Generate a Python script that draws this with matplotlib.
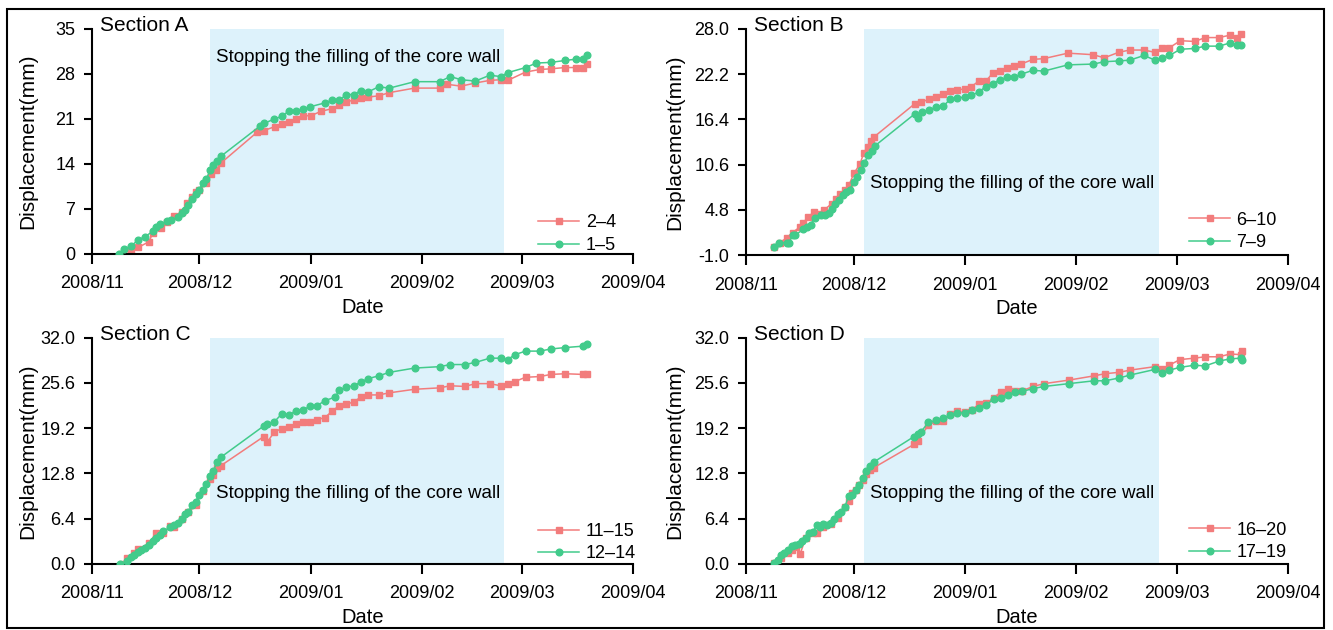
import datetime
import numpy as np
import matplotlib
matplotlib.use("Agg")
import matplotlib.pyplot as plt
import matplotlib.dates as mdates
from matplotlib.patches import Rectangle

plt.rcParams['font.family'] = ['Liberation Sans', 'DejaVu Sans']

# days counted from 2008/11/01, displacement in mm
a_days_red = [8, 11, 12.9, 15.9, 17, 19.2, 21, 23, 25, 26.5, 28, 28.9, 30, 31.8, 33.3, 34.6, 35.9, 46, 48, 51,
              53, 55, 57, 59, 61, 64, 67, 69, 71, 73, 75, 77, 80, 83, 90, 97, 99, 103, 107, 111,
              114, 116, 121, 125, 128, 132, 135, 137, 138]
a_disp_red = [0, 0.5, 1.0, 1.9, 3.3, 4.1, 5.0, 5.9, 6.5, 7.9, 8.8, 9.6, 10.0, 11.1, 12.4, 13.0, 14.1, 18.9, 19.2, 19.8,
              20.2, 20.5, 21.0, 21.5, 21.5, 22.2, 22.6, 23.1, 23.7, 23.9, 24.2, 24.4, 24.6, 25.1, 25.8, 25.8, 26.4, 26.1, 26.6, 27.0,
              27.1, 27.0, 28.3, 28.7, 28.8, 29.0, 29.0, 29.0, 29.6]
a_days_green = [7.5, 9, 10.9, 12.9, 14.9, 16.9, 18, 18.9, 21, 22, 23.9, 25, 25.9, 26.9, 27.9, 28.9, 29.9, 30.9, 31.9, 32.9,
                33.9, 34.9, 36, 46.9, 48, 50.9, 52.9, 54.9, 56.9, 58.9, 60.9, 65, 67, 69, 71, 73, 75, 77, 80, 83,
                90, 97, 100, 103, 107, 111, 114, 116, 121, 124, 128, 132, 135, 137, 138]
a_disp_green = [0, 0.8, 1.2, 2.2, 2.7, 3.5, 4.2, 4.6, 5.1, 5.2, 5.7, 6.4, 6.9, 7.6, 8.5, 9.3, 10.0, 11.0, 11.6, 13.0,
                13.8, 14.4, 15.2, 19.9, 20.3, 21.0, 21.4, 22.2, 22.3, 22.5, 22.9, 23.5, 23.9, 23.9, 24.8, 24.8, 25.4, 25.2, 26.0, 25.8,
                26.8, 26.8, 27.6, 27.1, 26.9, 27.8, 27.6, 28.2, 29.0, 29.7, 29.8, 30.1, 30.3, 30.3, 30.9]

b_days_red = [7.9, 9.5, 11.3, 13, 15, 16, 17.2, 19, 20, 21.8, 23.9, 25.1, 26.3, 27.5, 28.7, 30.1, 31.8, 32.8, 34, 34.8,
              35.8, 47, 48.8, 51, 53, 54.9, 56.9, 58.9, 60.9, 62.8, 64.8, 66.8, 68.7, 70.8, 72.8, 74.7, 76.7, 79.9, 83, 89.7,
              96.8, 99.8, 103.8, 106.9, 110.9, 114, 116, 118, 121, 125, 128, 131.8, 134.8, 136.8, 138]
b_disp_red = [0.07, 0.6, 1.2, 1.9, 2.6, 3.1, 3.9, 4.5, 4.3, 4.8, 5.6, 6.2, 6.8, 7.3, 8.0, 9.5, 10.7, 12.1, 12.9, 13.7,
              14.2, 18.4, 18.6, 19.0, 19.3, 19.6, 20.1, 20.2, 20.3, 20.6, 21.3, 21.3, 22.3, 22.6, 23.0, 23.3, 23.5, 24.1, 24.2, 24.9,
              24.7, 24.3, 25.0, 25.3, 25.3, 25.0, 25.5, 25.6, 26.5, 26.4, 26.9, 26.9, 27.2, 26.9, 27.4]
b_days_green = [7.9, 9.1, 11.3, 12, 13, 13.8, 16, 17.1, 18, 19.1, 21, 22, 23, 24, 24.9, 26, 26.9, 28, 28.9, 30,
                30.9, 32, 33, 34, 35, 35.9, 47, 48, 49, 51, 53, 55, 56.9, 58.9, 60.9, 62.8, 64.8, 66.8, 68.7, 70.8,
                72.8, 74.7, 76.7, 79.9, 83, 89.7, 96.8, 99.8, 103.8, 106.9, 110.9, 114, 116, 118, 121, 125, 128, 131.8, 134.8, 136.8,
                138]
b_disp_green = [0.0, 0.6, 0.6, 0.55, 1.6, 1.6, 2.3, 2.6, 2.9, 3.8, 4.2, 4.2, 4.4, 4.9, 5.5, 6.1, 6.7, 7.1, 7.4, 8.4,
                9.0, 9.9, 10.8, 11.8, 12.4, 13.0, 17.1, 16.6, 17.3, 17.6, 18.0, 18.1, 19.0, 19.1, 19.3, 19.5, 19.9, 20.6, 21.0, 21.5,
                21.8, 21.8, 22.2, 22.7, 22.6, 23.4, 23.5, 23.8, 23.9, 24.0, 24.6, 24.0, 24.3, 24.6, 25.4, 25.5, 25.8, 25.8, 26.2, 25.9,
                25.9]

c_days_red = [8.5, 9.9, 11.8, 12.9, 15.9, 17.9, 19.9, 21.9, 23, 25, 26.9, 28.9, 30.9, 32.9, 33.9, 34.9, 36, 47.9, 48.9, 50.9,
              52.9, 54.9, 56.9, 58.9, 60.9, 62.9, 65, 67, 69, 71, 73, 75, 77, 80, 83, 90, 97, 100, 104, 107,
              111, 114, 116, 118, 121, 125, 128, 132, 137, 138]
c_disp_red = [0.0, 0.8, 1.5, 2.1, 2.9, 4.4, 4.4, 5.3, 5.2, 6.4, 7.3, 8.3, 10.3, 12.0, 12.6, 13.5, 13.9, 18.0, 17.2, 18.7,
              19.1, 19.4, 19.8, 20.1, 20.1, 20.4, 20.7, 21.6, 22.4, 22.6, 22.9, 23.6, 23.9, 23.9, 24.2, 24.7, 24.9, 25.2, 25.1, 25.5,
              25.5, 25.2, 25.4, 25.8, 26.4, 26.5, 26.8, 26.9, 26.8, 26.9]
c_days_green = [7.9, 9.9, 10.9, 11.8, 12.9, 13.8, 14.9, 15.9, 16.9, 17.9, 18.9, 19.9, 21.9, 23, 23.9, 25, 25.9, 26.9, 27.9, 28.9,
                29.9, 30.9, 31.9, 32.9, 33.9, 34.9, 36, 47.9, 48.9, 50.9, 52.9, 54.9, 56.9, 58.9, 60.9, 62.9, 65, 67.9, 69, 71,
                73, 75, 77, 80, 83, 90, 97, 100, 104, 107, 111, 114, 116, 118, 121, 125, 128, 132, 137, 138]
c_disp_green = [0, 0.4, 0.9, 1.3, 1.7, 1.9, 2.2, 2.7, 3.2, 3.7, 4.1, 4.6, 5.2, 5.5, 5.8, 6.3, 7.1, 7.4, 8.3, 8.8,
                9.8, 10.4, 11.3, 12.4, 13.2, 14.4, 15.1, 19.5, 19.8, 20.1, 21.2, 21.1, 21.6, 21.8, 22.3, 22.4, 23.1, 23.6, 24.6, 25.0,
                25.2, 25.7, 26.2, 26.6, 27.1, 27.7, 27.9, 28.2, 28.2, 28.5, 29.1, 29.1, 28.9, 29.6, 30.1, 30.1, 30.4, 30.6, 30.8, 31.1]

d_days_red = [7.9, 9.7, 11.7, 12.7, 14, 15.1, 16.6, 18.6, 19.7, 21.6, 23.7, 25.6, 27.6, 28.6, 29.6, 30.6, 31.6, 32.6, 33.5, 34.6,
              35.6, 46.8, 47.8, 50.8, 52.9, 54.9, 56.9, 58.9, 60.9, 62.9, 65, 67, 69, 71, 73, 75, 77, 80, 83.1, 90,
              97, 100, 104, 106.9, 113.9, 115.9, 117.9, 120.9, 124.9, 127.9, 131.9, 134.9, 137.8, 138.2]
d_disp_red = [0.1, 0.8, 1.6, 2.0, 2.4, 1.4, 3.6, 4.4, 4.4, 5.2, 5.6, 6.5, 8.0, 8.9, 10.0, 10.4, 11.1, 11.8, 12.7, 13.3,
              13.6, 16.9, 17.4, 19.6, 20.2, 20.2, 21.2, 21.6, 21.5, 21.8, 22.6, 22.7, 23.5, 24.3, 24.8, 24.5, 24.5, 25.1, 25.5, 26.0,
              26.6, 26.9, 27.1, 27.4, 27.9, 27.5, 28.1, 28.9, 29.1, 29.3, 29.3, 29.7, 29.6, 30.1]
d_days_green = [7.9, 8.8, 9.7, 10.7, 11.7, 12.7, 13.6, 14.7, 15.6, 16.6, 17.7, 18.6, 19.7, 20.6, 21.6, 22.6, 23.6, 24.6, 25.6, 26.5,
                27.6, 28.6, 29.6, 30.6, 31.6, 32.6, 33.5, 34.6, 35.6, 46.8, 47.8, 48.8, 50.8, 52.9, 54.9, 56.9, 58.9, 60.9, 62.9, 65,
                67, 69, 71, 73, 75, 77, 80, 83.1, 90, 97, 100, 104, 106.9, 113.9, 115.9, 117.9, 120.9, 124.9, 127.9, 131.9,
                134.9, 137.8, 138.2]
d_disp_green = [0.1, 0.5, 1.2, 1.5, 1.9, 2.5, 2.7, 2.8, 3.3, 3.7, 4.4, 4.5, 5.5, 5.2, 5.6, 5.5, 5.8, 6.3, 7.0, 7.3,
                8.1, 9.6, 9.8, 10.4, 11.1, 12.2, 13.1, 13.8, 14.4, 18.0, 18.4, 18.7, 20.0, 20.3, 20.6, 21.0, 21.3, 21.4, 21.8, 22.1,
                22.5, 23.3, 23.5, 23.9, 24.3, 24.4, 24.8, 25.1, 25.5, 25.9, 25.9, 26.3, 26.7, 27.5, 27.0, 27.4, 27.8, 28.1, 28.0, 28.7,
                29.0, 29.1, 28.9]

titles = ['Section A', 'Section B', 'Section C', 'Section D']
labels_red = ['2\u20134', '6\u201310', '11\u201315', '16\u201320']
labels_green = ['1\u20135', '7\u20139', '12\u201314', '17\u201319']
yticks_a = [0, 7, 14, 21, 28, 35]
yticks_b = [-1.0, 4.8, 10.6, 16.4, 22.2, 28.0]
yticks_cd = [0.0, 6.4, 12.8, 19.2, 25.6, 32.0]
note = 'Stopping the filling of the core wall'
note_y = [30.6, 8.2, 9.9, 9.9]
stop_start, stop_end = 33, 115   # days after 2008/11/01

base = mdates.date2num(datetime.datetime(2008, 11, 1))
red = '#F27C7C'
green = '#42CB8B'
shade = '#DDF2FB'

fig = plt.figure(figsize=(13.33, 6.30), dpi=100)
boxes = [[0.069, 0.597, 0.406, 0.357], [0.5596, 0.595, 0.4066, 0.359],
         [0.069, 0.105, 0.406, 0.359], [0.5596, 0.105, 0.4066, 0.359]]
series = [(a_days_red, a_disp_red, a_days_green, a_disp_green),
          (b_days_red, b_disp_red, b_days_green, b_disp_green),
          (c_days_red, c_disp_red, c_days_green, c_disp_green),
          (d_days_red, d_disp_red, d_days_green, d_disp_green)]
yticks_all = [yticks_a, yticks_b, yticks_cd, yticks_cd]
leg_x = [0.824, 0.817, 0.824, 0.817]
leg_y = [0.0, 0.018, 0.006, 0.012]
ylab_x = [-0.102, -0.113, -0.102, -0.113]

for i in range(4):
    ax = fig.add_axes(boxes[i])
    dr, vr, dg, vg = series[i]
    yt = yticks_all[i]
    ax.axvspan(base + stop_start, base + stop_end, color=shade, lw=0, zorder=0)
    ax.plot(base + np.array(dr), vr, color=red, marker='s', ms=4.5, lw=1.1, label=labels_red[i], zorder=2)
    ax.plot(base + np.array(dg), vg, color=green, marker='o', ms=4.8, lw=1.1, label=labels_green[i], zorder=3)
    ax.set_xlim(base, mdates.date2num(datetime.datetime(2009, 4, 1)))
    ax.set_ylim(yt[0], yt[-1])
    ax.set_yticks(yt)
    if i == 0:
        ax.set_yticklabels([str(v) for v in yt])
    else:
        ax.set_yticklabels(['%.1f' % v for v in yt])
    ax.xaxis.set_major_locator(mdates.MonthLocator())
    ax.xaxis.set_major_formatter(mdates.DateFormatter('%Y/%m'))
    for s in ['top', 'right']:
        ax.spines[s].set_visible(False)
    for s in ['left', 'bottom']:
        ax.spines[s].set_linewidth(1.5)
    ax.tick_params(axis='both', labelsize=13, width=1.5, length=6)
    ax.tick_params(axis='y', pad=6)
    ax.tick_params(axis='x', pad=8.5, length=7)
    ax.set_xlabel('Date', fontsize=14.5, labelpad=4)
    ax.set_ylabel('Displacement(mm)', fontsize=15)
    ax.yaxis.set_label_coords(ylab_x[i], 0.5)
    ax.text(0.015, 1.015, titles[i], transform=ax.transAxes, fontsize=15, va='center', ha='left')
    ax.text(base + stop_start + 1.7, note_y[i], note, fontsize=13.5, va='center', ha='left')
    ax.legend(loc='lower left', bbox_to_anchor=(leg_x[i], leg_y[i]), frameon=False, fontsize=13,
              borderpad=0, borderaxespad=0, handlelength=2.3, handletextpad=0.35, labelspacing=0.3)

fig.add_artist(Rectangle((0.00525, 0.003), 0.988, 0.9825, transform=fig.transFigure,
                         fill=False, edgecolor='black', lw=1.5))

fig.savefig('out.png', dpi=100)
